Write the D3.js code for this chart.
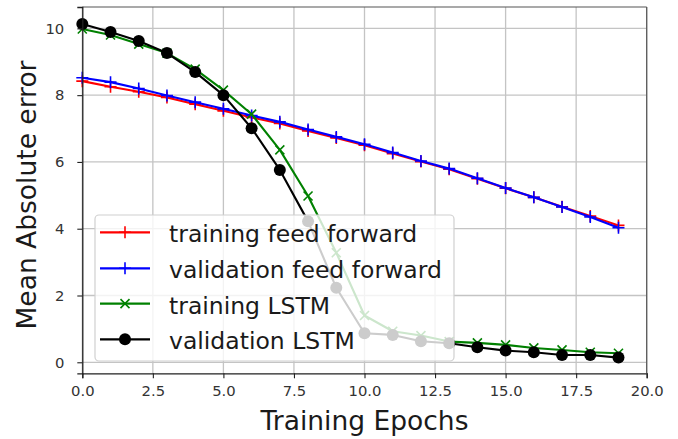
<!DOCTYPE html>
<html><head><meta charset="utf-8">
<script src="https://cdn.jsdelivr.net/npm/d3@7"></script>
<style>body{margin:0;background:#fff}svg{display:block}text{font-family:"DejaVu Sans",sans-serif}</style>
</head><body>
<svg id="c" width="678" height="439"></svg>
<script>
const epochs = [0,1,2,3,4,5,6,7,8,9,10,11,12,13,14,15,16,17,18,19];
const trainFF = [8.42,8.25,8.10,7.93,7.73,7.53,7.33,7.15,6.93,6.72,6.50,6.25,6.01,5.78,5.50,5.21,4.94,4.66,4.38,4.10];
const valFF   = [8.52,8.39,8.20,7.99,7.79,7.59,7.39,7.20,6.97,6.75,6.53,6.28,6.03,5.80,5.51,5.22,4.94,4.65,4.35,4.03];
const trainLSTM = [9.98,9.80,9.53,9.26,8.78,8.15,7.43,6.36,4.98,3.28,1.40,0.93,0.80,0.62,0.58,0.52,0.43,0.37,0.30,0.27];
const valLSTM   = [10.13,9.89,9.62,9.26,8.69,8.00,7.01,5.76,4.22,2.23,0.87,0.82,0.63,0.57,0.45,0.35,0.30,0.22,0.22,0.14];
const xTicks = [0,2.5,5,7.5,10,12.5,15,17.5,20];
const yTicks = [0,2,4,6,8,10];
const seriesNames = ["training feed forward","validation feed forward","training LSTM","validation LSTM"];
const seriesColors = ["#ff0000","#0000ff","#008000","#000000"];
const seriesMarkers = ["plus","plus","cross","circle"];
const seriesData = [trainFF, valFF, trainLSTM, valLSTM];

const svg = d3.select("#c");
const L=82.3, R=646.7, T=7, B=373.3;
const x = d3.scaleLinear().domain([0,20]).range([L,R]);
const y = d3.scaleLinear().domain([-0.33,10.64]).range([B,T]);

// grid
const g = svg.append("g");
g.selectAll(".gx").data(xTicks).join("line")
  .attr("x1",d=>x(d)).attr("x2",d=>x(d)).attr("y1",T).attr("y2",B)
  .attr("stroke","#c4c4c4").attr("stroke-width",1.3);
g.selectAll(".gy").data(yTicks).join("line")
  .attr("y1",d=>y(d)).attr("y2",d=>y(d)).attr("x1",L).attr("x2",R)
  .attr("stroke","#c4c4c4").attr("stroke-width",1.3);

function marker(sel, type, color){
  if(type==="circle"){
    sel.append("circle").attr("r",6).attr("fill",color);
  } else if(type==="plus"){
    sel.append("path").attr("d","M-6,0H6M0,-6V6").attr("stroke",color).attr("stroke-width",1.6);
  } else {
    sel.append("path").attr("d","M-4.5,-4.5L4.5,4.5M-4.5,4.5L4.5,-4.5").attr("stroke",color).attr("stroke-width",1.6);
  }
}

const line = d3.line().x((d,i)=>x(epochs[i])).y(d=>y(d));
seriesData.forEach((data,k)=>{
  const sg = svg.append("g");
  sg.append("path").attr("d",line(data)).attr("fill","none")
    .attr("stroke",seriesColors[k]).attr("stroke-width",2.1).attr("stroke-linejoin","round");
  data.forEach((v,i)=>{
    const m = sg.append("g").attr("transform",`translate(${x(epochs[i])},${y(v)})`);
    marker(m, seriesMarkers[k], seriesColors[k]);
  });
});

// spines
svg.append("line").attr("x1",L).attr("x2",R).attr("y1",T).attr("y2",T).attr("stroke","#555").attr("stroke-width",1.2);
svg.append("line").attr("x1",R).attr("x2",R).attr("y1",T).attr("y2",B).attr("stroke","#555").attr("stroke-width",1.2);

// axes
const xa = svg.append("g").attr("transform",`translate(0,${B})`)
  .call(d3.axisBottom(x).tickValues(xTicks).tickFormat(d3.format(".1f")).tickSizeOuter(0).tickSize(5).tickPadding(7));
const ya = svg.append("g").attr("transform",`translate(${L},0)`)
  .call(d3.axisLeft(y).tickValues(yTicks).tickFormat(d3.format("d")).tickSizeOuter(0).tickSize(5).tickPadding(13));
[xa,ya].forEach(a=>{
  a.select(".domain").attr("stroke","#222").attr("stroke-width",1.3);
  a.selectAll(".tick line").attr("stroke","#222").attr("stroke-width",1.1);
  a.selectAll(".tick text").attr("font-size",14.8).attr("fill","#333").attr("font-family","DejaVu Sans");
});

// axis labels
svg.append("text").attr("x",(L+R)/2).attr("y",430).attr("text-anchor","middle")
  .attr("font-size",26.5).attr("fill","#1a1a1a").text("Training Epochs");
svg.append("text").attr("transform",`translate(36,195) rotate(-90)`).attr("text-anchor","middle")
  .attr("font-size",26.5).attr("fill","#1a1a1a").text("Mean Absolute error");

// legend
const lg = svg.append("g");
lg.append("rect").attr("x",95).attr("y",215).attr("width",359).attr("height",146).attr("rx",4)
  .attr("fill","#fff").attr("fill-opacity",0.8).attr("stroke","#d0d0d0").attr("stroke-width",1.2);
const rowY = [232.3,268.3,303.6,339.3];
seriesNames.forEach((name,k)=>{
  const r = lg.append("g").attr("transform",`translate(0,${rowY[k]})`);
  r.append("line").attr("x1",100).attr("x2",150).attr("stroke",seriesColors[k]).attr("stroke-width",2.2);
  const m = r.append("g").attr("transform","translate(125,0)");
  marker(m, seriesMarkers[k], seriesColors[k]);
  r.append("text").attr("x",169).attr("y",10).attr("font-size",23.5).attr("fill","#1a1a1a").text(name);
});
</script>
</body></html>
